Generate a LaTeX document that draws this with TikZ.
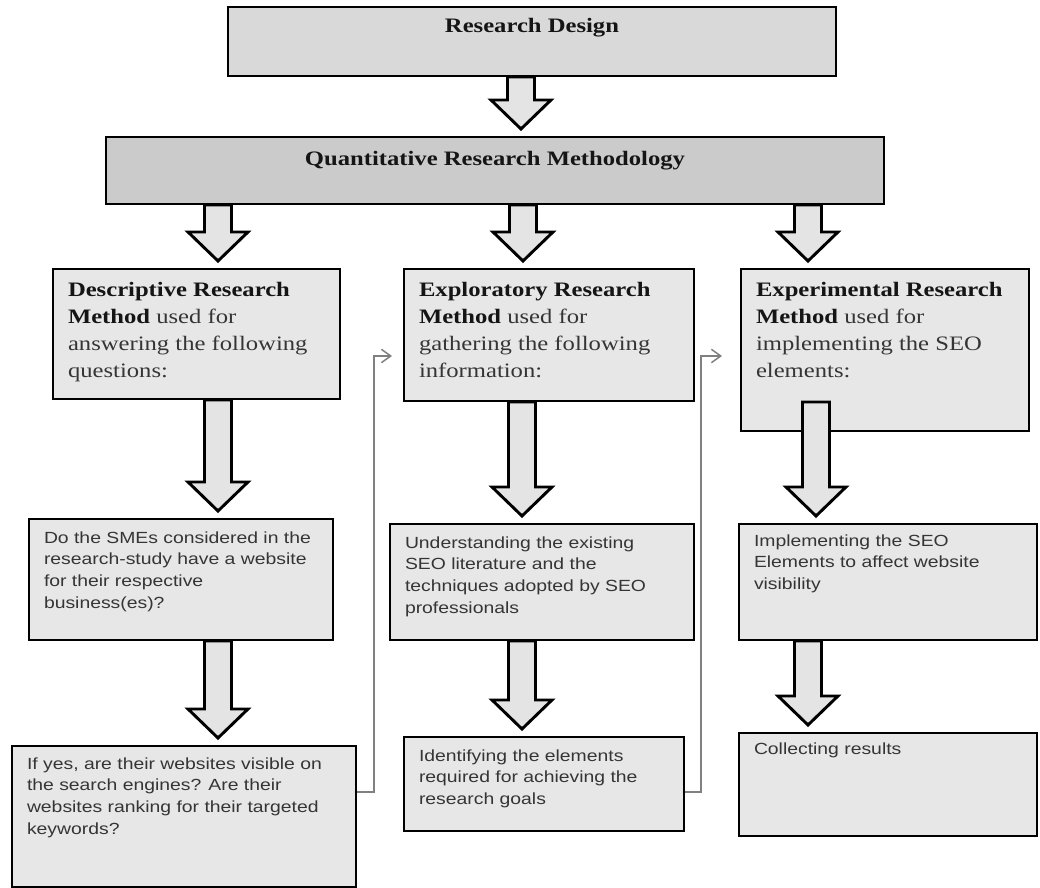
\documentclass[tikz,border=0pt]{standalone}
\usepackage{fontspec}
\setmainfont{Liberation Serif}[FakeStretch=1.2]
\newfontfamily\labelsans{Liberation Sans}[FakeStretch=1.2]
\usetikzlibrary{calc,arrows.meta}

\definecolor{headfill}{HTML}{D9D9D9}
\definecolor{methodfill}{HTML}{CBCBCB}
\definecolor{panelfill}{HTML}{E7E7E7}
\definecolor{arrowfill}{HTML}{E4E4E4}
\definecolor{inkdark}{HTML}{151515}
\definecolor{inkgray}{HTML}{353535}
\definecolor{linkgray}{HTML}{808080}

\newcommand\serifsize{\fontsize{15.4pt}{20.5pt}\selectfont}
\newcommand\sanssize{\labelsans\fontsize{12.1pt}{16.3pt}\selectfont}

% Boxes are given in pixel units: name, left, top, right, bottom,
% fill, first-baseline offset, format, text
\newcommand\panel[9]{%
  \pgfmathsetmacro\panelw{(#4-#2-30)*0.75}%
  \pgfmathsetmacro\panelh{(#5-#3)*0.75}%
  \pgfmathsetmacro\panelb{#7*0.75}%
  \node[panelbox, fill=#6] (#1) at (#2,#3)
    {\begin{minipage}[c][\panelh pt][t]{\panelw pt}#8\rule{0pt}{\panelb pt}#9\end{minipage}};}

% Hollow block arrow: x position, source node, target node, how far the
% shaft reaches back into the source box
\newcommand\blockarrow[4]{%
  \coordinate (ba) at (#1,0);
  \path (ba |- #2.south) coordinate (ba-top) (ba |- #3.north) coordinate (ba-end);
  \draw[barrow] ($(ba-top)+(-13.5,-#4)$) -- ($(ba-end)+(-13.5,-36)$)
    -- ($(ba-end)+(-30,-36)$) -- ($(ba-end)+(0,-7)$) -- ($(ba-end)+(30,-36)$)
    -- ($(ba-end)+(13.5,-36)$) -- ($(ba-top)+(13.5,-#4)$) -- cycle;}

\begin{document}
\begin{tikzpicture}[x=0.75pt,y=-0.75pt,
  panelbox/.style={draw=black, line width=1.5pt, anchor=north west,
    inner xsep=11.25pt, inner ysep=0pt},
  barrow/.style={draw=black, fill=arrowfill, line width=2.2pt, line join=miter},
  link/.style={draw=linkgray, line width=1.1pt,
    -{Straight Barb[length=7pt,width=10pt,line width=1.1pt]}}]
\useasboundingbox[fill=white] (0,0) rectangle (1040,888);

% top levels
\panel{rd}{227}{6}{835}{75}{headfill}{26}{\serifsize\centering\color{inkdark}\bfseries}{Research Design}
\panel{qrm}{105}{136}{883}{203}{methodfill}{29}{\serifsize\centering\color{inkdark}\bfseries}{Quantitative Research Methodology}

% methods
\panel{desc}{52}{268}{339}{398}{panelfill}{27}{\serifsize\raggedright\color{inkgray}}%
  {{\color{inkdark}\bfseries Descriptive Research\\ Method} used for\\ answering the following\\ questions:}
\panel{expl}{403}{268}{693}{400}{panelfill}{27}{\serifsize\raggedright\color{inkgray}}%
  {{\color{inkdark}\bfseries Exploratory Research\\ Method} used for\\ gathering the following\\ information:}
\panel{expt}{740}{268}{1028}{430}{panelfill}{27}{\serifsize\raggedright\color{inkgray}}%
  {{\color{inkdark}\bfseries Experimental Research\\ Method} used for\\ implementing the SEO\\ elements:}

% second row
\panel{smes}{28}{518}{332}{639}{panelfill}{24}{\sanssize\raggedright\color{inkgray}}%
  {Do the SMEs considered in the\\ research-study have a website\\ for their respective\\ business(es)?}
\panel{und}{389}{523}{693}{639}{panelfill}{24}{\sanssize\raggedright\color{inkgray}}%
  {Understanding the existing\\ SEO literature and the\\ techniques adopted by SEO\\ professionals}
\panel{impl}{738}{523}{1036}{639}{panelfill}{22}{\sanssize\raggedright\color{inkgray}}%
  {Implementing the SEO\\ Elements to affect website\\ visibility}

% third row
\panel{ifyes}{11}{745}{355}{886}{panelfill}{23}{\sanssize\raggedright\color{inkgray}}%
  {If yes, are their websites visible on\\ the search engines? Are their\\ websites ranking for their targeted\\ keywords?}
\panel{ident}{403}{736}{683}{830}{panelfill}{24}{\sanssize\raggedright\color{inkgray}}%
  {Identifying the elements\\ required for achieving the\\ research goals}
\panel{coll}{738}{732}{1036}{835}{panelfill}{21}{\sanssize\raggedright\color{inkgray}}%
  {Collecting results}

% hollow block arrows
\blockarrow{521}{rd}{qrm}{0}
\blockarrow{218}{qrm}{desc}{0}
\blockarrow{523}{qrm}{expl}{0}
\blockarrow{808}{qrm}{expt}{0}
\blockarrow{218}{desc}{smes}{0}
\blockarrow{522}{expl}{und}{0}
\blockarrow{816}{expt}{impl}{30}
\blockarrow{218}{smes}{ifyes}{0}
\blockarrow{522}{und}{ident}{0}
\blockarrow{808}{impl}{coll}{0}

% thin feedback links
\coordinate (l1s) at ($(ifyes.north east)+(0,47)$);
\coordinate (l1e) at ($(expl.north west)+(-11,88)$);
\draw[link] (l1s) -| ($(l1e)+(-18,0)$) -- (l1e);
\coordinate (l2s) at ($(ident.north east)+(0,56)$);
\coordinate (l2e) at ($(expt.north west)+(-18,88)$);
\draw[link] (l2s) -| ($(l2e)+(-21,0)$) -- (l2e);
\end{tikzpicture}
\end{document}
